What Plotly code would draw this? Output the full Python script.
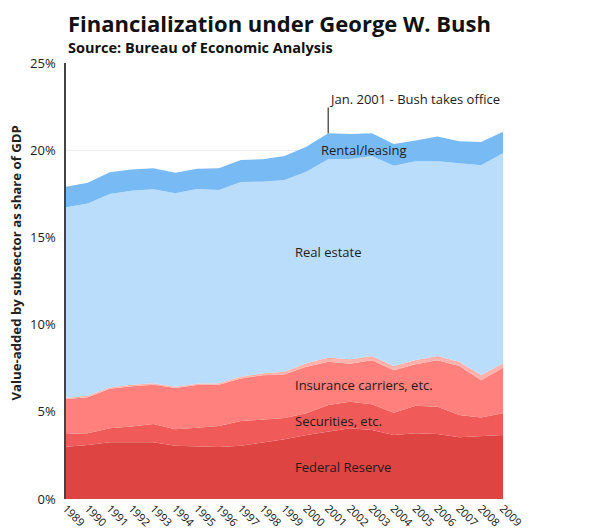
import plotly.graph_objects as go

years = list(range(1989, 2010))
federal_reserve = [3.00, 3.10, 3.25, 3.27, 3.25, 3.06, 3.02, 2.98, 3.06, 3.23, 3.42,
                   3.67, 3.86, 4.05, 3.96, 3.67, 3.77, 3.73, 3.54, 3.61, 3.67]
securities = [0.73, 0.67, 0.80, 0.88, 1.05, 0.94, 1.07, 1.21, 1.41, 1.32, 1.22,
              1.24, 1.53, 1.53, 1.47, 1.28, 1.58, 1.56, 1.28, 1.07, 1.24]
insurance = [2.00, 2.07, 2.27, 2.32, 2.25, 2.36, 2.44, 2.36, 2.44, 2.54, 2.51,
             2.67, 2.48, 2.18, 2.52, 2.43, 2.37, 2.66, 2.80, 2.13, 2.62]
funds = [0.08, 0.08, 0.08, 0.08, 0.08, 0.08, 0.08, 0.08, 0.10, 0.12, 0.15,
         0.20, 0.25, 0.25, 0.25, 0.25, 0.25, 0.25, 0.25, 0.30, 0.25]
real_estate = [10.92, 11.03, 11.09, 11.13, 11.13, 11.09, 11.17, 11.09, 11.17, 10.98, 10.99,
               10.99, 11.36, 11.49, 11.47, 11.48, 11.39, 11.16, 11.38, 12.02, 12.04]
rental = [1.18, 1.19, 1.24, 1.22, 1.20, 1.18, 1.16, 1.24, 1.26, 1.29, 1.38,
          1.43, 1.49, 1.43, 1.30, 1.25, 1.19, 1.42, 1.26, 1.34, 1.24]

y_ticks = [0, 5, 10, 15, 20, 25]
y_tick_labels = ["0%", "5%", "10%", "15%", "20%", "25%"]

series = [
    ("Federal Reserve", federal_reserve, "rgb(221,68,66)"),
    ("Securities, etc.", securities, "rgb(240,90,88)"),
    ("Insurance carriers, etc.", insurance, "rgb(255,128,124)"),
    ("Funds, trust, etc.", funds, "rgb(255,178,172)"),
    ("Real estate", real_estate, "rgb(185,221,250)"),
    ("Rental/leasing", rental, "rgb(120,186,244)"),
]

fig = go.Figure()
for name, vals, col in series:
    fig.add_trace(go.Scatter(
        x=years, y=vals, name=name, mode="lines", stackgroup="one",
        line=dict(width=0, color=col), fillcolor=col, hoverinfo="skip",
    ))

totals = [sum(v) for v in zip(federal_reserve, securities, insurance, funds, real_estate, rental)]
i2001 = years.index(2001)

txt = "#231a1a"
font_main = "Open Sans"

fig.add_shape(type="line", x0=2001, x1=2001, y0=totals[i2001], y1=22.45,
              line=dict(color="#333", width=1.2))

annots = [
    dict(x=2000.95, y=22.95, text="Jan. 2001 - Bush takes office", xanchor="left"),
    dict(x=2000.6, y=20.0, text="Rental/leasing", xanchor="left"),
    dict(x=1999.4, y=14.15, text="Real estate", xanchor="left"),
    dict(x=1999.4, y=6.55, text="Insurance carriers, etc.", xanchor="left"),
    dict(x=1999.4, y=4.47, text="Securities, etc.", xanchor="left"),
    dict(x=1999.4, y=1.83, text="Federal Reserve", xanchor="left"),
    dict(x=2009.08, y=7.63, text="Funds, trust, etc.", xanchor="left"),
]
for a in annots:
    fig.add_annotation(x=a["x"], y=a["y"], text=a["text"], xanchor=a["xanchor"],
                       yanchor="middle", showarrow=False,
                       font=dict(family=font_main, size=13, color=txt))

fig.add_annotation(xref="paper", yref="paper", x=0.0, y=1.0, text="<b>Financialization under George W. Bush</b>",
                   xanchor="left", yanchor="middle", xshift=0, yshift=40, showarrow=False,
                   font=dict(family=font_main, size=22, color="#111"))
fig.add_annotation(xref="paper", yref="paper", x=0.0, y=1.0, text="<b>Source: Bureau of Economic Analysis</b>",
                   xanchor="left", yanchor="middle", xshift=0, yshift=16, showarrow=False,
                   font=dict(family=font_main, size=14.5, color="#111"))
fig.add_annotation(xref="paper", yref="paper", x=0.0, y=0.54, text="<b>Value-added by subsector as share of GDP</b>",
                   xanchor="center", yanchor="middle", xshift=-50, textangle=-90, showarrow=False,
                   font=dict(family=font_main, size=13.2, color="#222"))

# the page body adds an 8px margin, so the figure is drawn 8px smaller
fig.update_layout(
    width=598, height=520,
    margin=dict(l=58, r=103, t=55, b=29, pad=0),
    paper_bgcolor="white", plot_bgcolor="white",
    showlegend=False,
    font=dict(family=font_main, color="#222"),
    xaxis=dict(range=[1989, 2009], tickmode="array", tickvals=years,
               ticktext=[str(y) for y in years], tickangle=45, automargin=False,
               showgrid=False, zeroline=False, showline=False, ticks="",
               ticklabelstandoff=0,
               tickfont=dict(size=11, color="#111", family=font_main)),
    yaxis=dict(range=[0, 25], tickmode="array", tickvals=y_ticks, ticktext=y_tick_labels,
               showgrid=True, gridcolor="rgba(0,0,0,0.07)", zeroline=False, automargin=False,
               showline=True, linecolor="#444", linewidth=1.5, ticks="",
               ticklabelstandoff=6,
               tickfont=dict(size=13, color="#222", family=font_main)),
)

fig.write_html("out.html")
